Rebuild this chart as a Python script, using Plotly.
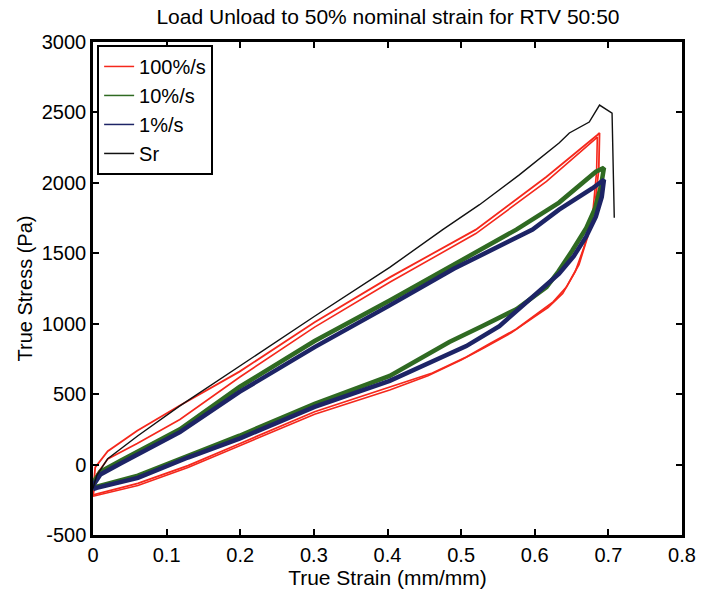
import plotly.graph_objects as go

# ---------------- data ----------------
# 100%/s, first cycle: loading branch then unloading branch
red_a_x = [0.0, 0.003, 0.02, 0.06, 0.118, 0.199, 0.301, 0.403, 0.52, 0.616, 0.685, 0.688,
           0.687, 0.682, 0.672, 0.660, 0.643, 0.625, 0.606, 0.575, 0.538, 0.507, 0.461,
           0.403, 0.301, 0.199, 0.129, 0.061, 0.005, 0.0]
red_a_y = [-200, -20, 95, 240, 420, 660, 1011, 1329, 1668, 2043, 2340, 2354,
           2100, 1850, 1620, 1420, 1260, 1155, 1082, 962, 855, 764, 650,
           550, 375, 148, -7, -134, -205, -215]
# 100%/s, second cycle
red_b_x = [0.0, 0.005, 0.02, 0.06, 0.118, 0.199, 0.301, 0.403, 0.52, 0.616, 0.682, 0.685,
           0.684, 0.679, 0.668, 0.655, 0.638, 0.618, 0.600, 0.568, 0.532, 0.500, 0.455,
           0.403, 0.301, 0.199, 0.129, 0.061, 0.005, 0.0]
red_b_y = [-225, -70, 40, 150, 320, 620, 976, 1294, 1640, 2010, 2310, 2325,
           2080, 1800, 1560, 1370, 1215, 1115, 1050, 935, 830, 742, 630,
           530, 358, 132, -20, -148, -215, -225]
# 10%/s
green_x = [0.0, 0.01, 0.038, 0.118, 0.199, 0.301, 0.403, 0.49, 0.575, 0.633, 0.683, 0.694,
           0.690, 0.682, 0.670, 0.651, 0.632, 0.616, 0.575, 0.529, 0.484, 0.403, 0.301,
           0.199, 0.129, 0.061, 0.005, 0.0]
green_y = [-130, -50, 30, 250, 551, 877, 1165, 1420, 1668, 1860, 2079, 2107,
           1980, 1820, 1680, 1520, 1370, 1260, 1103, 983, 870, 629, 431,
           205, 64, -78, -156, -160]
# 1%/s
blue_x = [0.0, 0.01, 0.038, 0.118, 0.199, 0.301, 0.403, 0.49, 0.597, 0.633, 0.678, 0.694,
          0.691, 0.683, 0.670, 0.653, 0.633, 0.597, 0.552, 0.507, 0.403, 0.301, 0.199,
          0.129, 0.061, 0.005, 0.0]
blue_y = [-150, -70, 10, 230, 516, 834, 1130, 1390, 1668, 1810, 1960, 2022,
          1900, 1760, 1620, 1480, 1355, 1190, 983, 841, 594, 410, 184,
          50, -95, -165, -175]
# Sr
sr_x = [0.0, 0.005, 0.02, 0.061, 0.118, 0.199, 0.301, 0.403, 0.475, 0.525, 0.579, 0.633,
        0.647, 0.674, 0.688, 0.705, 0.708]
sr_y = [-170, -78, 42, 205, 417, 700, 1053, 1400, 1668, 1845, 2057, 2283,
        2354, 2432, 2552, 2495, 1753]

legend_names = ["100%/s", "10%/s", "1%/s", "Sr"]
x_ticks = [0, 0.1, 0.2, 0.3, 0.4, 0.5, 0.6, 0.7, 0.8]
x_tick_text = ["0", "0.1", "0.2", "0.3", "0.4", "0.5", "0.6", "0.7", "0.8"]
y_ticks = [-500, 0, 500, 1000, 1500, 2000, 2500, 3000]
y_tick_text = ["-500", "0", "500", "1000", "1500", "2000", "2500", "3000"]

RED = "#f5281c"
GREEN = "#2f6a22"
BLUE = "#1d2466"
BLACK = "#111111"
FONT = "Liberation Sans, Arial, sans-serif"

fig = go.Figure()
fig.add_trace(go.Scatter(x=red_b_x, y=red_b_y, mode="lines", line=dict(color=RED, width=1.6),
                         showlegend=False, hoverinfo="skip"))
fig.add_trace(go.Scatter(x=red_a_x, y=red_a_y, mode="lines", line=dict(color=RED, width=1.8),
                         showlegend=False))
fig.add_trace(go.Scatter(x=green_x, y=green_y, mode="lines", line=dict(color=GREEN, width=4.5),
                         showlegend=False))
fig.add_trace(go.Scatter(x=blue_x, y=blue_y, mode="lines", line=dict(color=BLUE, width=4.5),
                         showlegend=False))
fig.add_trace(go.Scatter(x=sr_x, y=sr_y, mode="lines", line=dict(color=BLACK, width=1.4),
                         showlegend=False))

# legend entries (thin lines like the reference legend)
for name, col in zip(legend_names, [RED, GREEN, BLUE, BLACK]):
    fig.add_trace(go.Scatter(x=[None], y=[None], mode="lines", name=name,
                             line=dict(color=col, width=1.5), showlegend=True))

axis_common = dict(
    showgrid=False, zeroline=False, showline=True, linecolor="black", linewidth=2.5,
    mirror="ticks", ticks="inside", ticklen=6, tickwidth=1.5, tickcolor="black",
    tickfont=dict(family=FONT, size=20, color="black"),
)

fig.update_layout(
    width=708, height=592,
    margin=dict(l=93, r=25, t=42, b=55),
    paper_bgcolor="white", plot_bgcolor="white",
    title=dict(text="Load Unload to 50% nominal strain for RTV 50:50",
               x=0.548, xanchor="center", y=0.972, yanchor="middle",
               font=dict(family=FONT, size=21, color="black")),
    xaxis=dict(range=[0, 0.8], tickvals=x_ticks, ticktext=x_tick_text,
               title=dict(text="True Strain (mm/mm)", standoff=0,
                          font=dict(family=FONT, size=21, color="black")),
               **axis_common),
    yaxis=dict(range=[-500, 3000], tickvals=y_ticks, ticktext=y_tick_text,
               title=dict(text="True Stress (Pa)", standoff=4,
                          font=dict(family=FONT, size=20, color="black")),
               **axis_common),
    legend=dict(x=0.007, y=0.994, xanchor="left", yanchor="top",
                bgcolor="white", bordercolor="black", borderwidth=2,
                font=dict(family=FONT, size=20, color="black"),
                tracegroupgap=0, itemwidth=30),
    showlegend=True,
)

fig.write_html("out.html")
